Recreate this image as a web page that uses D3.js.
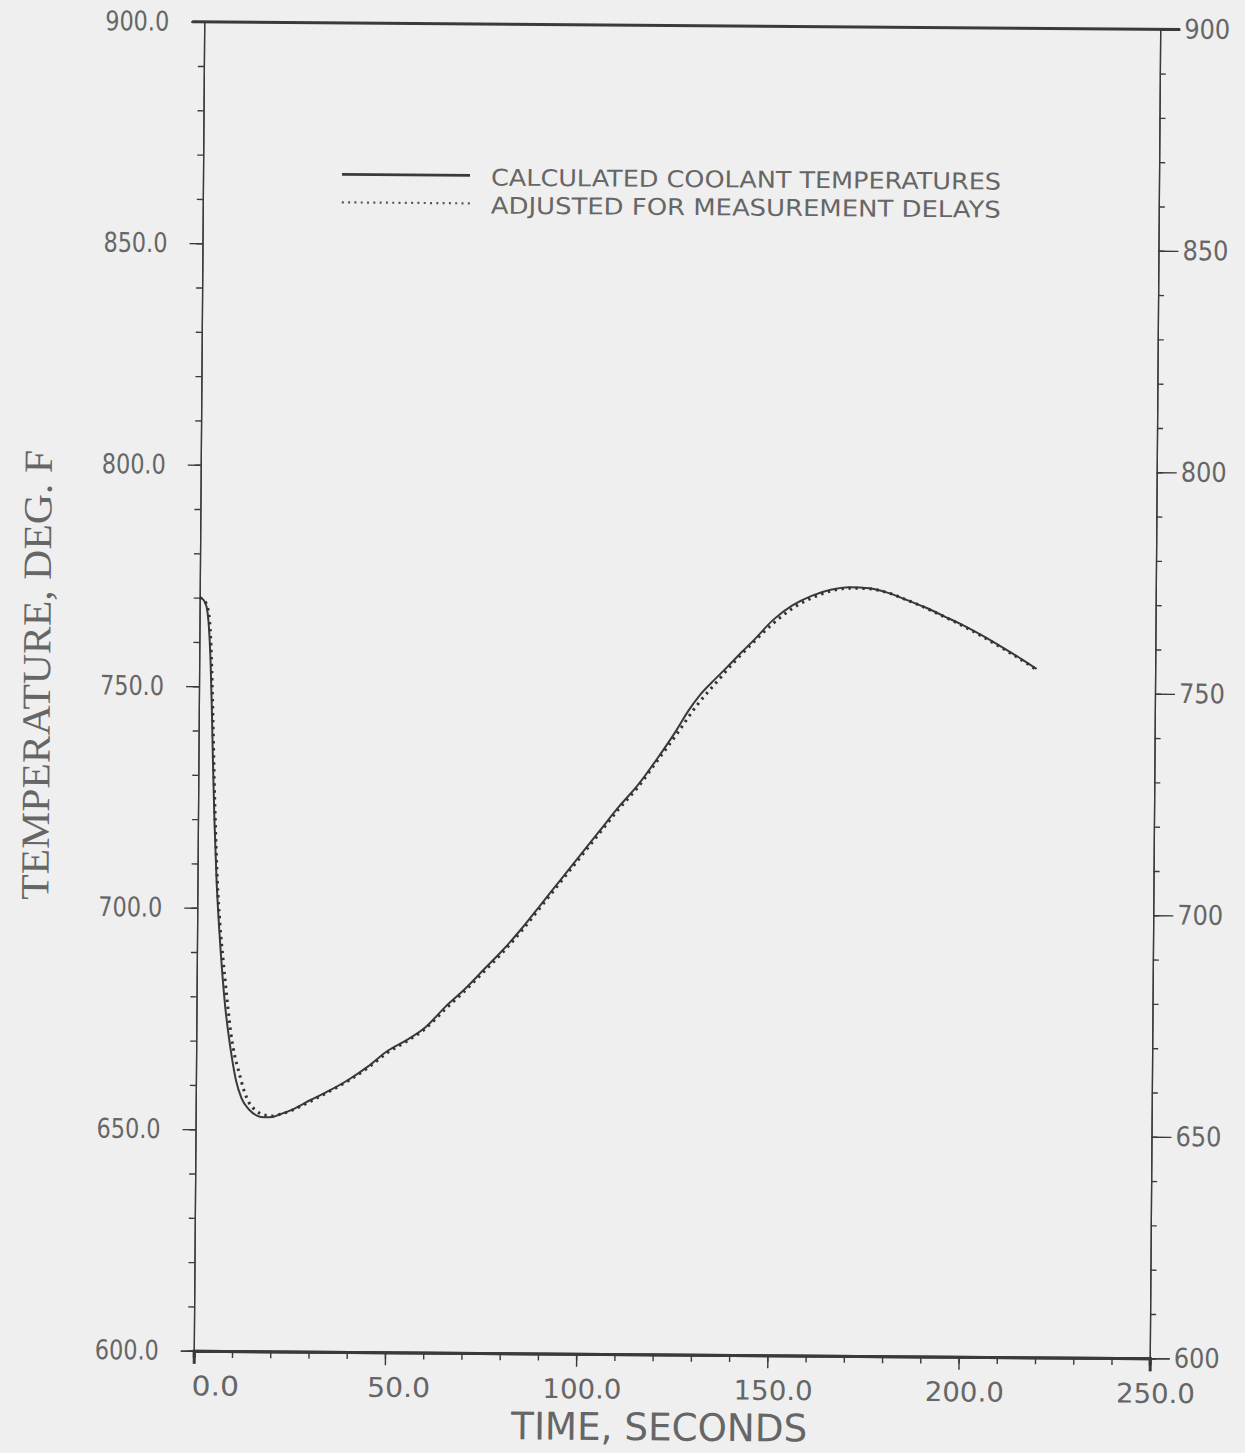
<!DOCTYPE html>
<html>
<head>
<meta charset="utf-8">
<script src="https://cdn.jsdelivr.net/npm/d3@7"></script>
<style>
    html, body { margin: 0; padding: 0; background: #efefef; }
    svg { display: block; }
</style>
</head>
<body>
<svg id="chart" width="1245" height="1453"></svg>
<script>

// Data
const timeCalculated = [0, 1, 1.8, 2.5, 3, 3.4, 3.8, 4.3, 5, 5.8, 6.7, 7.6, 8.5, 9.5, 10.5, 12, 14, 16, 18, 20, 22, 25, 30, 35, 40, 45, 50, 55, 60, 65, 70, 75, 80, 85, 90, 95, 100, 105, 110, 115, 120, 125, 128, 131, 134, 138, 142, 145, 150, 155, 160, 165, 170, 175, 180, 185, 190, 195, 200, 205, 210, 215, 219];
const tempCalculated = [770, 769.5, 768, 763, 755, 745, 733, 720, 706, 695, 685, 677, 671, 665.5, 661, 657, 654.5, 653.2, 652.8, 652.9, 653.5, 654.5, 656.8, 659, 661.5, 664.5, 668, 670.5, 673.5, 678, 682, 686.5, 691, 696, 701.5, 707, 712.5, 718, 723.5, 728.5, 734.5, 741, 745.3, 748.9, 751.7, 755.2, 758.8, 761.4, 766, 769.3, 771.5, 772.9, 773.5, 773.3, 772.3, 770.7, 769, 767, 765, 762.7, 760.2, 757.6, 755.4];

const timeAdjusted = [0, 1, 2, 2.8, 3.3, 3.7, 4.1, 4.6, 5.2, 6, 6.9, 7.9, 9, 10, 11.3, 12.6, 14, 15.5, 17, 18.7, 20, 22, 25, 30, 35, 40, 45, 50, 55, 60, 65, 70, 75, 80, 85, 90, 95, 100, 105, 110, 115, 120, 125, 130, 135, 140, 145, 150, 155, 160, 165, 170, 175, 180, 185, 190, 195, 200, 205, 210, 215, 219];
const tempAdjusted = [770, 769.5, 768, 763, 754, 743, 731, 718, 706, 696, 688, 680, 672, 667, 662.8, 658.8, 656, 654.5, 653.6, 653.2, 653.1, 653.5, 654.4, 656.5, 658.8, 661.3, 664.2, 667.6, 670.2, 673.2, 677.5, 681.6, 686, 690.5, 695.5, 701, 706.5, 712, 717.5, 723, 728, 734, 740, 746.3, 751.5, 756.5, 761, 765.2, 768.6, 771, 772.6, 773.3, 773.2, 772.3, 770.7, 768.9, 766.9, 764.8, 762.5, 760, 757.4, 755.2];

const xMajorTicks = [0, 50, 100, 150, 200, 250];
const xMinorTicks = d3.range(0, 251, 10);
const yMajorTicks = [600, 650, 700, 750, 800, 850, 900];
const yMinorTicks = d3.range(600, 901, 10);

const legendLabels = ['CALCULATED COOLANT TEMPERATURES', 'ADJUSTED FOR MEASUREMENT DELAYS'];
const xTitle = 'TIME, SECONDS';
const yTitle = 'TEMPERATURE, DEG. F';

// Layout
const margin = { left: 199, right: 90, top: 25.5, bottom: 98.5 },
    width = 1245 - margin.left - margin.right,
    height = 1453 - margin.top - margin.bottom,
    ink = '#3a3a3a',
    textInk = '#666',
    plotFont = "'DejaVu Sans', sans-serif";

const svg = d3.select('#chart');

// the scan is slightly turned clockwise
const g = svg.append('g')
    .attr('transform', 'rotate(0.45, 677, 690) translate(' + margin.left + ',' + margin.top + ')');

const x = d3.scaleLinear().domain([0, 250]).range([0, width]);
const y = d3.scaleLinear().domain([600, 900]).range([height, 0]);

function styleAxis(sel, strokeWidth) {
    sel.selectAll('path.domain').attr('stroke', ink).attr('stroke-width', strokeWidth);
    sel.selectAll('.tick line').attr('stroke', ink).attr('stroke-width', 1.4);
    sel.selectAll('text')
        .attr('font-family', plotFont)
        .attr('fill', textInk);
}

// Minor ticks
g.append('g')
    .attr('transform', 'translate(0,' + height + ')')
    .call(d3.axisBottom(x).tickValues(xMinorTicks).tickSize(7).tickFormat(''))
    .call(styleAxis, 3);
g.append('g')
    .call(d3.axisLeft(y).tickValues(yMinorTicks).tickSize(6).tickFormat(''))
    .call(styleAxis, 1.3);
g.append('g')
    .attr('transform', 'translate(' + width + ',0)')
    .call(d3.axisRight(y).tickValues(yMinorTicks).tickSize(6).tickFormat(''))
    .call(styleAxis, 1.3);

// Major ticks + labels
const xAxis = g.append('g')
    .attr('transform', 'translate(0,' + height + ')')
    .call(d3.axisBottom(x).tickValues(xMajorTicks).tickSize(13).tickPadding(6).tickFormat(d3.format('.1f')))
    .call(styleAxis, 3);
xAxis.selectAll('text')
    .attr('font-size', 27)
    .attr('text-anchor', 'end')
    .attr('dx', 45)
    .attr('dy', '0.95em')
    .attr('textLength', (d) => d3.format('.1f')(d).length * 15.8)
    .attr('lengthAdjust', 'spacingAndGlyphs');

const yAxisLeft = g.append('g')
    .call(d3.axisLeft(y).tickValues(yMajorTicks).tickSize(13).tickPadding(22).tickFormat(d3.format('.1f')))
    .call(styleAxis, 1.3);
yAxisLeft.selectAll('text')
    .attr('font-size', 27)
    .attr('textLength', 64)
    .attr('lengthAdjust', 'spacingAndGlyphs');

const yAxisRight = g.append('g')
    .attr('transform', 'translate(' + width + ',0)')
    .call(d3.axisRight(y).tickValues(yMajorTicks).tickSize(20).tickPadding(4).tickFormat(d3.format('d')))
    .call(styleAxis, 1.3);
yAxisRight.selectAll('text')
    .attr('font-size', 27)
    .attr('textLength', 46)
    .attr('lengthAdjust', 'spacingAndGlyphs');

// Heavy frame line along the top
g.append('line')
    .attr('x1', -12).attr('x2', width + 20)
    .attr('y1', y(900)).attr('y2', y(900))
    .attr('stroke', ink)
    .attr('stroke-width', 3);

// Curves
const line = d3.line()
    .x((d) => x(d[0]))
    .y((d) => y(d[1]))
    .curve(d3.curveMonotoneX);

g.append('path')
    .datum(d3.zip(timeCalculated, tempCalculated))
    .attr('d', line)
    .attr('fill', 'none')
    .attr('stroke', ink)
    .attr('stroke-width', 2);

g.append('path')
    .datum(d3.zip(timeAdjusted, tempAdjusted))
    .attr('d', line)
    .attr('fill', 'none')
    .attr('stroke', '#333')
    .attr('stroke-width', 3)
    .attr('stroke-dasharray', '2.4,4.6');

// Legend
const legend = g.append('g').attr('transform', 'translate(' + (338 - margin.left) + ',' + (177 - margin.top) + ')');
legend.selectAll('line')
    .data(legendLabels)
    .join('line')
    .attr('x1', 0).attr('x2', 128)
    .attr('y1', (d, i) => i * 28).attr('y2', (d, i) => i * 28)
    .attr('stroke', (d, i) => i ? '#555' : ink)
    .attr('stroke-width', (d, i) => i ? 2.2 : 2.8)
    .attr('stroke-dasharray', (d, i) => i ? '2,4.3' : null);
legend.selectAll('text')
    .data(legendLabels)
    .join('text')
    .attr('x', 149)
    .attr('y', (d, i) => i * 28 + 10)
    .attr('font-family', plotFont)
    .attr('fill', textInk)
    .attr('font-size', 23)
    .attr('textLength', 510)
    .attr('lengthAdjust', 'spacingAndGlyphs')
    .text((d) => d);

// Axis titles
g.append('text')
    .attr('x', width / 2 - 12)
    .attr('y', height + 86)
    .attr('text-anchor', 'middle')
    .attr('font-family', plotFont)
    .attr('fill', textInk)
    .attr('font-size', 38)
    .attr('textLength', 296)
    .attr('lengthAdjust', 'spacingAndGlyphs')
    .text(xTitle);

g.append('text')
    .attr('transform', 'translate(' + (50 - margin.left) + ',' + (680 - margin.top) + ') rotate(-90)')
    .attr('text-anchor', 'middle')
    .attr('font-family', "'Liberation Serif', serif")
    .attr('fill', textInk)
    .attr('font-size', 40)
    .attr('textLength', 450)
    .attr('lengthAdjust', 'spacingAndGlyphs')
    .text(yTitle);

</script>
</body>
</html>
